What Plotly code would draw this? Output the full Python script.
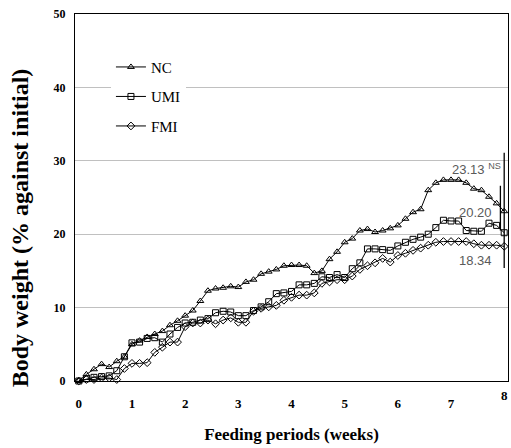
import plotly.graph_objects as go

days = list(range(57))

nc = [0, 0.9, 1.6, 2.3, 1.9, 2.7, 3.3, 5.0, 5.5, 6.0, 6.4, 6.8, 7.6, 8.2, 8.9, 9.6,
      10.9, 12.3, 12.6, 12.7, 12.9, 12.8, 13.5, 13.8, 14.6, 14.9, 15.2, 15.7, 15.8, 15.8,
      15.7, 14.7, 15.0, 16.6, 17.6, 18.9, 19.4, 20.5, 20.7, 20.3, 20.5, 20.8, 21.2, 22.1,
      23.0, 23.4, 26.0, 27.0, 27.4, 27.4, 27.4, 27.0, 26.2, 26.0, 25.1, 24.2, 23.13]
umi = [0, 0.3, 0.5, 0.6, 0.7, 1.4, 3.3, 5.2, 5.3, 5.8, 5.9, 5.3, 6.4, 7.3, 7.9, 8.0,
       8.3, 8.5, 9.3, 9.5, 9.4, 8.9, 8.9, 9.6, 10.1, 10.8, 11.9, 12.0, 12.2, 13.1,
       13.1, 13.3, 14.2, 14.1, 14.5, 14.1, 15.3, 16.1, 18.0, 18.0, 17.9, 17.8, 18.4, 18.9,
       19.3, 19.6, 20.0, 20.9, 21.9, 21.8, 21.8, 20.5, 20.4, 20.4, 21.5, 21.2, 20.20]
fmi = [0, 0.2, 0.2, 0.4, 0.4, 0.2, 1.7, 2.4, 2.4, 2.5, 3.9, 4.6, 5.3, 5.3, 7.4, 7.9,
       7.9, 8.3, 7.8, 8.3, 8.6, 8.0, 8.0, 9.5, 9.9, 10.1, 10.3, 11.0, 11.4, 11.7,
       11.7, 12.0, 13.3, 13.5, 13.8, 13.8, 14.3, 15.2, 15.7, 16.1, 16.7, 16.2, 17.1, 17.4,
       17.8, 18.1, 18.5, 18.9, 19.0, 19.0, 19.0, 19.0, 18.7, 18.5, 18.5, 18.5, 18.34]

series_names = ["NC", "UMI", "FMI"]
series_symbols = ["triangle-up-open", "square-open", "diamond-open"]
final_labels = ["23.13 <sup>NS</sup>", "20.20", "18.34"]
label_pos_day = [55.8, 54.7, 54.7]
label_pos_val = [28.9, 23.0, 16.45]

week_ticks = [0, 1, 2, 3, 4, 5, 6, 7]
days_per_week = 7
last_week = 8

# vertical range lines at the final day
range_days = [55.5, 56]
range_low = [20.5, 15.4]
range_high = [26.6, 31.1]

SERIF = "Liberation Serif, Times New Roman, serif"

fig = go.Figure()
for i, (name, ys) in enumerate(zip(series_names, [nc, umi, fmi])):
    fig.add_trace(go.Scatter(
        x=days, y=ys, name=name, mode="lines+markers",
        line=dict(color="black", width=1),
        marker=dict(symbol=series_symbols[i], size=6, color="black",
                    line=dict(width=1, color="black")),
        cliponaxis=False, legendgroup=name,
    ))

for d, lo, hi in zip(range_days, range_low, range_high):
    fig.add_trace(go.Scatter(x=[d, d], y=[lo, hi], mode="lines",
                             line=dict(color="black", width=1.3),
                             showlegend=False, hoverinfo="skip"))

for t, xd, yv in zip(final_labels, label_pos_day, label_pos_val):
    fig.add_annotation(x=xd, y=yv, text=t, showarrow=False, xanchor="right",
                       font=dict(family="Liberation Sans, Arial", size=13, color="#5a5a5a"))

fig.add_annotation(x=last_week * days_per_week, y=0, xref="x", yref="paper",
                   text="<b>%d</b>" % last_week, showarrow=False, yanchor="top",
                   yshift=-5, font=dict(family=SERIF, size=13, color="black"))

# y-axis title drawn as rotated text
fig.add_annotation(x=0, y=0.416, xref="paper", yref="paper", xshift=-55,
                   text="<b>Body weight (% against initial)</b>", textangle=-90,
                   showarrow=False, xanchor="center", yanchor="middle",
                   font=dict(family=SERIF, size=24, color="black"))

fig.update_layout(
    width=511, height=448,
    margin=dict(l=75, r=3, t=14, b=67, autoexpand=False),
    paper_bgcolor="white", plot_bgcolor="white",
    showlegend=True,
    legend=dict(x=0.083, y=0.90, xanchor="left", yanchor="top",
                bgcolor="white", borderwidth=0, itemwidth=30,
                tracegroupgap=7,
                font=dict(family=SERIF, size=15, color="black")),
    xaxis=dict(range=[-0.5, 56.5], tickvals=[w * days_per_week for w in week_ticks],
               ticktext=["<b>%d</b>" % w for w in week_ticks], automargin=False,
               showgrid=False, zeroline=False, showline=True, linecolor="black", linewidth=1,
               mirror=True, ticks="", ticklabelstandoff=10,
               tickfont=dict(family=SERIF, size=13, color="black"),
               title=dict(text="<b>Feeding periods (weeks)</b>", standoff=18,
                          font=dict(family=SERIF, size=17, color="black"))),
    yaxis=dict(range=[0, 50], tickvals=[0, 10, 20, 30, 40, 50],
               ticktext=["<b>%d</b>" % v for v in [0, 10, 20, 30, 40, 50]], automargin=False,
               showgrid=True, gridcolor="#c0c0c0", gridwidth=1, zeroline=False,
               showline=True, linecolor="black", linewidth=1, mirror=True, ticks="",
               ticklabelstandoff=6,
               tickfont=dict(family=SERIF, size=12, color="black")),
)

fig.write_html("out.html", config={"displayModeBar": False},
               post_script="document.body.style.margin='0';")
